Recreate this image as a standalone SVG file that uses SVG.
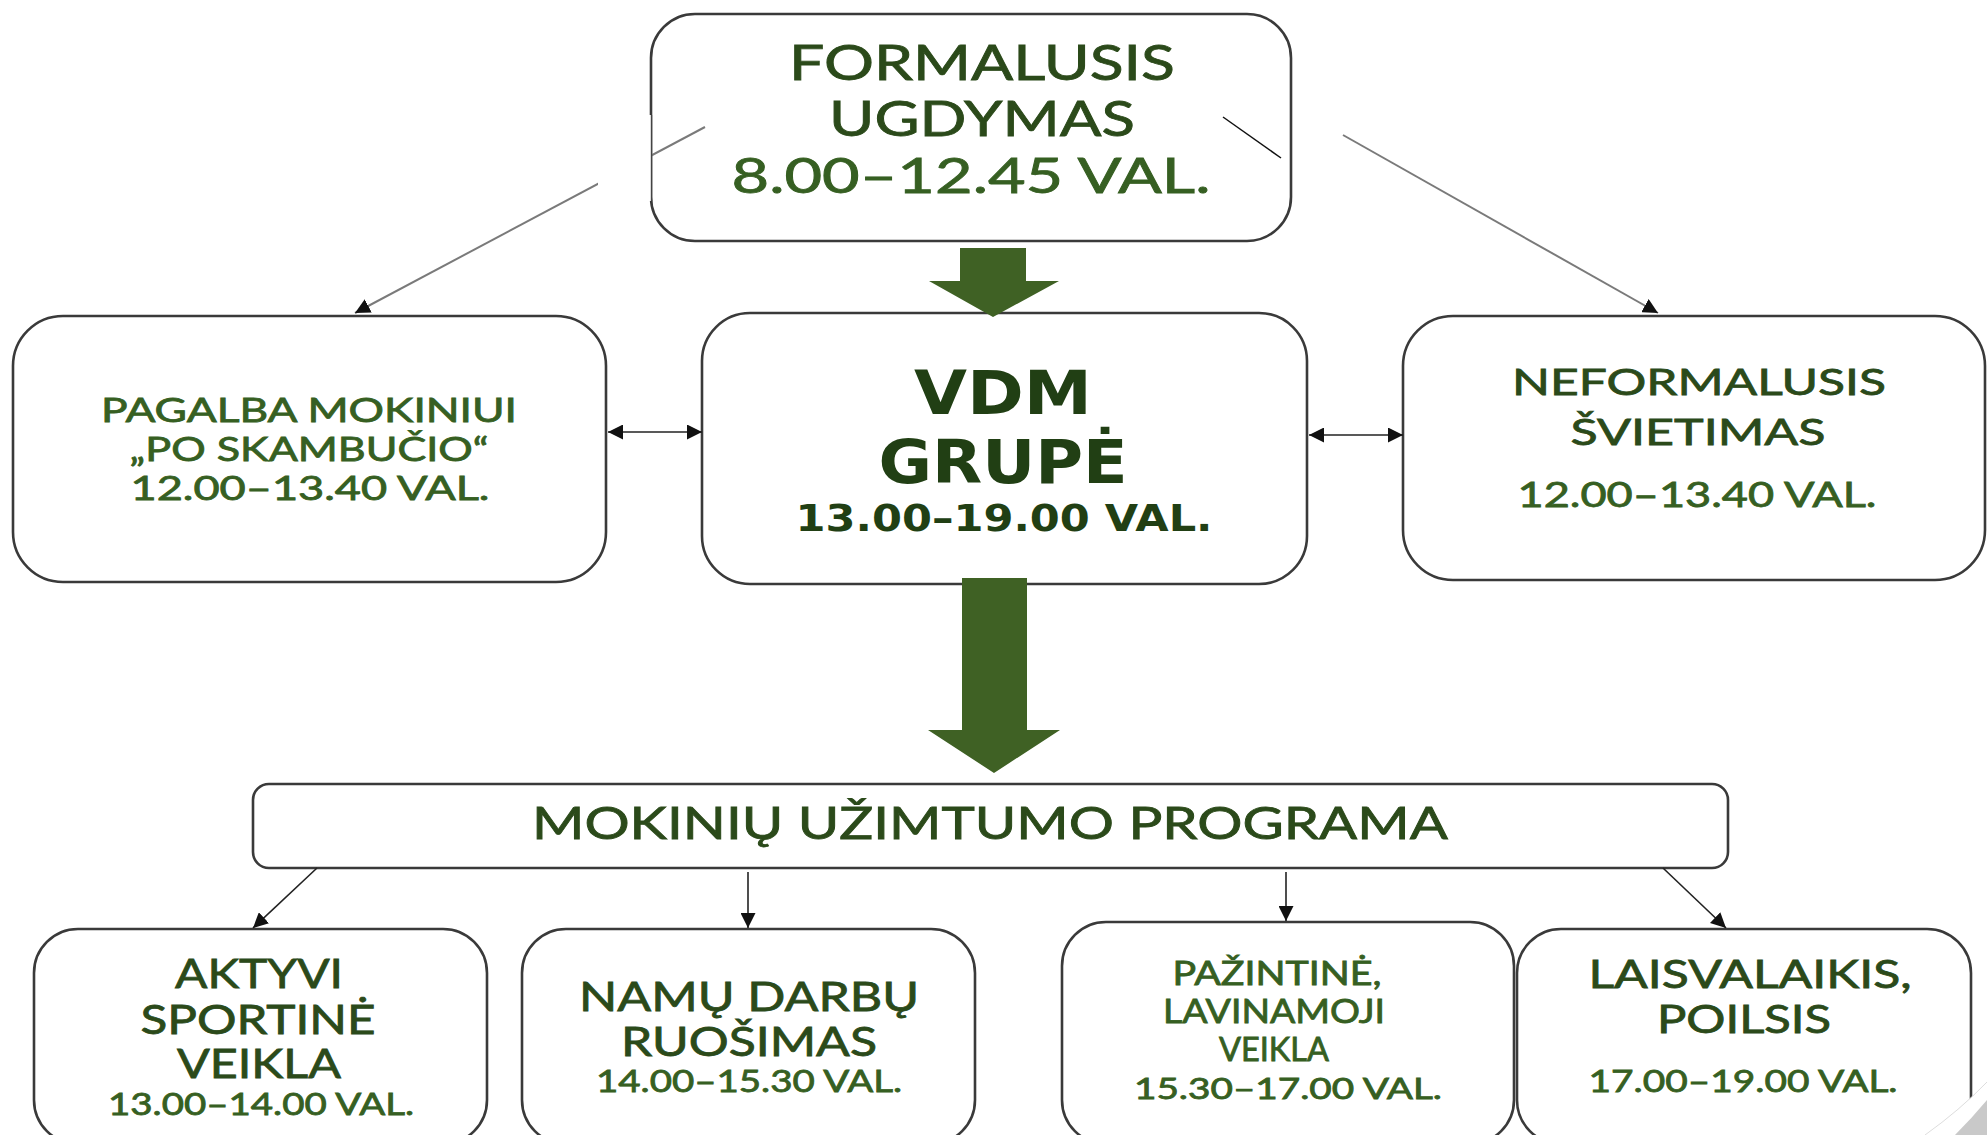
<svg xmlns="http://www.w3.org/2000/svg" width="1987" height="1135" viewBox="0 0 1987 1135">
<style>
.box{fill:#fff;stroke:#3a3a3a;stroke-width:2.6}
.t{font-family:Lato,"Open Sans","Liberation Sans",sans-serif;fill:#365f22;stroke:#365f22;stroke-width:0.8;text-anchor:middle}
.d{fill:#2b4a1a;stroke:#2b4a1a}
.b{font-family:"DejaVu Sans","Liberation Sans",sans-serif;font-weight:bold;fill:#213f14;text-anchor:middle}
.gl{stroke:#7a7a7a;stroke-width:2;fill:none}
.bl{stroke:#222;stroke-width:1.6;fill:none}
.big{fill:#3f6124}
</style>
<defs>
<marker id="ah" viewBox="0 0 10 10" refX="10" refY="5" markerWidth="15" markerHeight="15" markerUnits="userSpaceOnUse" orient="auto-start-reverse">
<path d="M0,0 L10,5 L0,10 z" fill="#111"/>
</marker>
</defs>
<rect width="1987" height="1135" fill="#fff"/>

<g id="formalusis">
<rect class="box" x="651" y="14" width="640" height="227" rx="44"/>
<text class="t d" x="982" y="80" font-size="48" textLength="386" lengthAdjust="spacingAndGlyphs">FORMALUSIS</text>
<text class="t d" x="982" y="136" font-size="48" textLength="306" lengthAdjust="spacingAndGlyphs">UGDYMAS</text>
<text class="t" x="971" y="193" font-size="48" textLength="479" lengthAdjust="spacingAndGlyphs">8.00–12.45 VAL.</text>
</g>

<g id="pagalba">
<rect class="box" x="13" y="316" width="593" height="266" rx="50"/>
<text class="t" x="309" y="422" font-size="33" textLength="416" lengthAdjust="spacingAndGlyphs">PAGALBA MOKINIUI</text>
<text class="t" x="309" y="461" font-size="33" textLength="359" lengthAdjust="spacingAndGlyphs">„PO SKAMBUČIO“</text>
<text class="t" x="310" y="500" font-size="33" textLength="359" lengthAdjust="spacingAndGlyphs">12.00–13.40 VAL.</text>
</g>

<g id="vdm">
<rect class="box" x="702" y="313" width="605" height="271" rx="48"/>
<text class="b" x="1003" y="414" font-size="60" textLength="178" lengthAdjust="spacingAndGlyphs">VDM</text>
<text class="b" x="1003" y="483" font-size="60" textLength="249" lengthAdjust="spacingAndGlyphs">GRUPĖ</text>
<text class="b" x="1004" y="531" font-size="37" textLength="417" lengthAdjust="spacingAndGlyphs">13.00–19.00 VAL.</text>
</g>

<g id="neformalusis">
<rect class="box" x="1403" y="316" width="582" height="264" rx="50"/>
<text class="t d" x="1699" y="395" font-size="37" textLength="374" lengthAdjust="spacingAndGlyphs">NEFORMALUSIS</text>
<text class="t d" x="1698" y="445" font-size="37" textLength="255" lengthAdjust="spacingAndGlyphs">ŠVIETIMAS</text>
<text class="t" x="1697" y="507" font-size="35" textLength="359" lengthAdjust="spacingAndGlyphs">12.00–13.40 VAL.</text>
</g>

<g id="programa">
<rect class="box" x="253" y="784" width="1475" height="84" rx="16"/>
<text class="t d" x="990" y="839" font-size="44" textLength="916" lengthAdjust="spacingAndGlyphs">MOKINIŲ UŽIMTUMO PROGRAMA</text>
</g>

<g id="aktyvi">
<rect class="box" x="34" y="929" width="453" height="215" rx="44"/>
<text class="t d" x="259" y="988" font-size="40" textLength="168" lengthAdjust="spacingAndGlyphs">AKTYVI</text>
<text class="t d" x="258" y="1034" font-size="40" textLength="235" lengthAdjust="spacingAndGlyphs">SPORTINĖ</text>
<text class="t d" x="259" y="1078" font-size="40" textLength="164" lengthAdjust="spacingAndGlyphs">VEIKLA</text>
<text class="t" x="261" y="1115" font-size="31" textLength="306" lengthAdjust="spacingAndGlyphs">13.00–14.00 VAL.</text>
</g>

<g id="namu">
<rect class="box" x="522" y="929" width="453" height="215" rx="44"/>
<text class="t d" x="749" y="1011" font-size="40" textLength="340" lengthAdjust="spacingAndGlyphs">NAMŲ DARBŲ</text>
<text class="t d" x="749" y="1056" font-size="40" textLength="256" lengthAdjust="spacingAndGlyphs">RUOŠIMAS</text>
<text class="t" x="749" y="1092" font-size="31" textLength="306" lengthAdjust="spacingAndGlyphs">14.00–15.30 VAL.</text>
</g>

<g id="pazintine">
<rect class="box" x="1062" y="922" width="452" height="222" rx="44"/>
<text class="t" x="1277" y="985" font-size="32" textLength="209" lengthAdjust="spacingAndGlyphs">PAŽINTINĖ,</text>
<text class="t" x="1274" y="1023" font-size="32" textLength="222" lengthAdjust="spacingAndGlyphs">LAVINAMOJI</text>
<text class="t" x="1274" y="1061" font-size="32" textLength="110" lengthAdjust="spacingAndGlyphs">VEIKLA</text>
<text class="t" x="1288" y="1099" font-size="29" textLength="308" lengthAdjust="spacingAndGlyphs">15.30–17.00 VAL.</text>
</g>

<g id="laisvalaikis">
<rect class="box" x="1517" y="929" width="454" height="215" rx="44"/>
<text class="t d" x="1750" y="988" font-size="38" textLength="323" lengthAdjust="spacingAndGlyphs">LAISVALAIKIS,</text>
<text class="t d" x="1744" y="1033" font-size="38" textLength="174" lengthAdjust="spacingAndGlyphs">POILSIS</text>
<text class="t" x="1743" y="1092" font-size="31" textLength="309" lengthAdjust="spacingAndGlyphs">17.00–19.00 VAL.</text>
</g>

<g id="connectors">
<line class="gl" x1="705" y1="127" x2="355" y2="313" marker-end="url(#ah)"/>
<rect x="598" y="115" width="52" height="86" fill="#fff"/>
<rect x="646" y="115" width="6" height="86" fill="#fff"/>
<line x1="651.5" y1="115" x2="651.5" y2="201" stroke="#444" stroke-width="1.4"/>
<line x1="1223" y1="117" x2="1281" y2="158" stroke="#111" stroke-width="1.5"/>
<line class="gl" x1="1343" y1="135" x2="1658" y2="313" marker-end="url(#ah)"/>
<line class="bl" x1="608" y1="432" x2="702" y2="432" marker-start="url(#ah)" marker-end="url(#ah)"/>
<line class="bl" x1="1309" y1="435" x2="1403" y2="435" marker-start="url(#ah)" marker-end="url(#ah)"/>
<polygon class="big" points="960,248 1026,248 1026,281 1059,281 993,317 929,281 960,281"/>
<polygon class="big" points="962,578 1027,578 1027,730 1060,730 994,773 928,730 962,730"/>
<line class="bl" x1="317" y1="868" x2="253" y2="928" marker-end="url(#ah)"/>
<line class="bl" x1="748" y1="872" x2="748" y2="928" marker-end="url(#ah)"/>
<line class="bl" x1="1286" y1="872" x2="1286" y2="921" marker-end="url(#ah)"/>
<line class="bl" x1="1663" y1="868" x2="1726" y2="928" marker-end="url(#ah)"/>
</g>

<g id="corner">
<path d="M1925,1135 Q1960,1110 1987,1082 L1987,1135 Z" fill="#fff"/>
<path d="M1925,1135 Q1960,1110 1987,1082" fill="none" stroke="#ddd" stroke-width="1"/>
<path d="M1955,1135 Q1972,1118 1987,1100 L1987,1135 Z" fill="#c9c9c9"/>
</g>
</svg>
